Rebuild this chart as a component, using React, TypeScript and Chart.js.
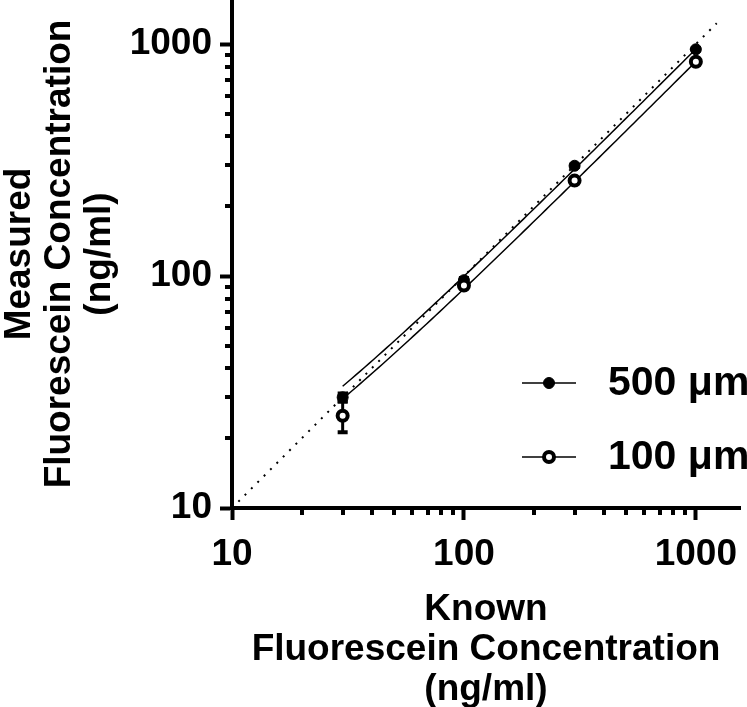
import React, { useEffect, useRef } from "react";
import { Chart, registerables } from "chart.js";

Chart.register(...registerables);

// ---- data ----
const knownConc = [30, 100, 300, 1000];
const measured500 = [30, 96, 299, 950];
const measured100 = [25, 91, 258, 840];
const sd500 = [1.2, 2, 4, 10];
const sd100 = [3.8, 1.5, 3, 10];
const seriesNames = ["500 \u03bcm", "100 \u03bcm"];
const majorTicks = [10, 100, 1000];
const minorTicks = [20, 30, 40, 50, 60, 70, 80, 90, 200, 300, 400, 500, 600, 700, 800, 900];
const axisMin = 10;
const axisMax = 1550;
const identityRange = [10, 1230];
const xTitle = ["Known", "Fluorescein Concentration", "(ng/ml)"];
const yTitle = ["Measured", "Fluorescein Concentration", "(ng/ml)"];

const FONT = 'Arial, "Liberation Sans", Helvetica, sans-serif';

function linearFit(xs: number[], ys: number[]) {
  const n = xs.length;
  const mx = xs.reduce((a, b) => a + b, 0) / n;
  const my = ys.reduce((a, b) => a + b, 0) / n;
  let sxy = 0;
  let sxx = 0;
  for (let i = 0; i < n; i++) {
    sxy += (xs[i] - mx) * (ys[i] - my);
    sxx += (xs[i] - mx) * (xs[i] - mx);
  }
  const slope = sxy / sxx;
  const icpt = my - slope * mx;
  return (x: number) => slope * x + icpt;
}

function fitCurve(xs: number[], ys: number[]) {
  const f = linearFit(xs, ys);
  const lo = Math.min(...xs);
  const hi = Math.max(...xs);
  const steps = 80;
  return Array.from({ length: steps + 1 }, (_, i) => {
    const x = lo * Math.pow(hi / lo, i / steps);
    return { x, y: f(x) };
  });
}

const toPoints = (xs: number[], ys: number[]) => xs.map((x, i) => ({ x, y: ys[i] }));

const errorBarPlugin = {
  id: "errorBars",
  beforeDatasetsDraw(chart: any) {
    const ctx = chart.ctx;
    const xs = chart.scales.x;
    const ys = chart.scales.y;
    chart.data.datasets.forEach((ds: any) => {
      if (!ds.errors) return;
      ds.data.forEach((p: any, i: number) => {
        const e = ds.errors[i];
        if (!e) return;
        const px = xs.getPixelForValue(p.x);
        const top = ys.getPixelForValue(p.y + e);
        const bot = ys.getPixelForValue(p.y - e);
        ctx.save();
        ctx.strokeStyle = "#000";
        ctx.lineWidth = 3;
        ctx.beginPath();
        ctx.moveTo(px, top);
        ctx.lineTo(px, bot);
        ctx.stroke();
        ctx.lineWidth = 4;
        ctx.beginPath();
        ctx.moveTo(px - 5, top);
        ctx.lineTo(px + 5, top);
        ctx.moveTo(px - 5, bot);
        ctx.lineTo(px + 5, bot);
        ctx.stroke();
        ctx.restore();
      });
    });
  },
};

const minorTickPlugin = {
  id: "minorTicks",
  afterDraw(chart: any) {
    const ctx = chart.ctx;
    const xs = chart.scales.x;
    const ys = chart.scales.y;
    const area = chart.chartArea;
    ctx.save();
    ctx.strokeStyle = "#000";
    ctx.lineWidth = 4;
    ctx.beginPath();
    minorTicks.forEach((v) => {
      if (v <= axisMax) {
        const px = Math.round(xs.getPixelForValue(v));
        ctx.moveTo(px, area.bottom);
        ctx.lineTo(px, area.bottom + 7);
        const py = Math.round(ys.getPixelForValue(v));
        ctx.moveTo(area.left, py);
        ctx.lineTo(area.left - 7, py);
      }
    });
    ctx.stroke();
    ctx.restore();
  },
};

const legendPlugin = {
  id: "customLegend",
  afterDraw(chart: any) {
    const ctx = chart.ctx;
    const area = chart.chartArea;
    const rows = [
      { y: area.bottom - 125, ds: chart.data.datasets[0] },
      { y: area.bottom - 51, ds: chart.data.datasets[1] },
    ];
    const x0 = area.right - 218;
    const x1 = area.right - 164;
    const mx = (x0 + x1) / 2;
    ctx.save();
    rows.forEach((r) => {
      ctx.strokeStyle = "#000";
      ctx.lineWidth = 1.5;
      ctx.beginPath();
      ctx.moveTo(x0, r.y);
      ctx.lineTo(x1, r.y);
      ctx.stroke();
      ctx.beginPath();
      ctx.arc(mx, r.y, r.ds.pointRadius, 0, Math.PI * 2);
      ctx.fillStyle = r.ds.pointBackgroundColor;
      ctx.fill();
      ctx.lineWidth = r.ds.pointBorderWidth;
      ctx.strokeStyle = r.ds.pointBorderColor;
      ctx.stroke();
      ctx.fillStyle = "#000";
      ctx.font = `bold 41px ${FONT}`;
      ctx.textAlign = "left";
      ctx.textBaseline = "middle";
      ctx.fillText(r.ds.label, area.right - 132, r.y + 1);
    });
    ctx.restore();
  },
};

function fixScale(size: { width?: number; height?: number }) {
  return (scale: any) => {
    if (size.width !== undefined) scale.width = size.width;
    if (size.height !== undefined) scale.height = size.height;
    scale.paddingTop = 0;
    scale.paddingBottom = 0;
    scale.paddingLeft = 0;
    scale.paddingRight = 0;
  };
}

export default function App() {
  const ref = useRef<HTMLCanvasElement>(null);

  useEffect(() => {
    if (!ref.current) return;
    const tickColor = (c: any) => (majorTicks.includes(c.tick?.value) ? "#000" : "rgba(0,0,0,0)");
    const chart = new Chart(ref.current, {
      type: "scatter",
      data: {
        datasets: [
          {
            label: seriesNames[0],
            data: toPoints(knownConc, measured500),
            errors: sd500,
            pointRadius: 5.5,
            pointBackgroundColor: "#000",
            pointBorderColor: "#000",
            pointBorderWidth: 1,
            showLine: false,
            order: 1,
          } as any,
          {
            label: seriesNames[1],
            data: toPoints(knownConc, measured100),
            errors: sd100,
            pointRadius: 5,
            pointBackgroundColor: "#fff",
            pointBorderColor: "#000",
            pointBorderWidth: 4,
            showLine: false,
            order: 0,
          } as any,
          {
            label: "fit500",
            data: fitCurve(knownConc, measured500),
            showLine: true,
            pointRadius: 0,
            borderColor: "#000",
            borderWidth: 1.5,
            order: 5,
          },
          {
            label: "fit100",
            data: fitCurve(knownConc, measured100),
            showLine: true,
            pointRadius: 0,
            borderColor: "#000",
            borderWidth: 1.5,
            order: 5,
          },
          {
            label: "identity",
            data: identityRange.map((v) => ({ x: v, y: v })),
            showLine: true,
            pointRadius: 0,
            borderColor: "#000",
            borderWidth: 2,
            borderDash: [2, 7],
            order: 6,
          },
        ],
      },
      options: {
        animation: false,
        responsive: false,
        events: [],
        layout: { autoPadding: false, padding: { left: 0, right: 7, top: 0, bottom: 0 } },
        plugins: { legend: { display: false }, tooltip: { enabled: false } },
        scales: {
          x: {
            type: "logarithmic",
            min: axisMin,
            max: axisMax,
            afterBuildTicks: (s: any) => {
              s.ticks = majorTicks.map((v) => ({ value: v }));
            },
            afterFit: fixScale({ height: 199 }),
            border: { display: true, color: "#000", width: 4 },
            grid: { drawOnChartArea: false, drawTicks: true, tickLength: 12, tickWidth: 4, tickColor },
            ticks: {
              autoSkip: false,
              maxRotation: 0,
              padding: 13,
              color: "#000",
              font: { family: FONT, size: 37, weight: "bold" },
              callback: (v: any) => String(v),
            },
            title: {
              display: true,
              text: xTitle,
              color: "#000",
              padding: { top: 0, bottom: -3 },
              font: { family: FONT, size: 37, weight: "bold", lineHeight: 40 / 37 },
            },
          },
          y: {
            type: "logarithmic",
            min: axisMin,
            max: axisMax,
            afterBuildTicks: (s: any) => {
              s.ticks = majorTicks.map((v) => ({ value: v }));
            },
            afterFit: fixScale({ width: 232 }),
            border: { display: true, color: "#000", width: 4 },
            grid: { drawOnChartArea: false, drawTicks: true, tickLength: 12, tickWidth: 4, tickColor },
            ticks: {
              autoSkip: false,
              padding: 8,
              color: "#000",
              font: { family: FONT, size: 37, weight: "bold" },
              callback: (v: any) => String(v),
            },
            title: {
              display: true,
              text: yTitle,
              color: "#000",
              padding: { top: 0, bottom: 0 },
              font: { family: FONT, size: 37, weight: "bold", lineHeight: 40 / 37 },
            },
          },
        },
      } as any,
      plugins: [errorBarPlugin, minorTickPlugin, legendPlugin],
    });
    return () => chart.destroy();
  }, []);

  return (
    <div style={{ position: "absolute", left: 0, top: 0, width: 747, height: 707, background: "#fff" }}>
      <canvas ref={ref} width={747} height={707} style={{ display: "block" }} />
    </div>
  );
}
